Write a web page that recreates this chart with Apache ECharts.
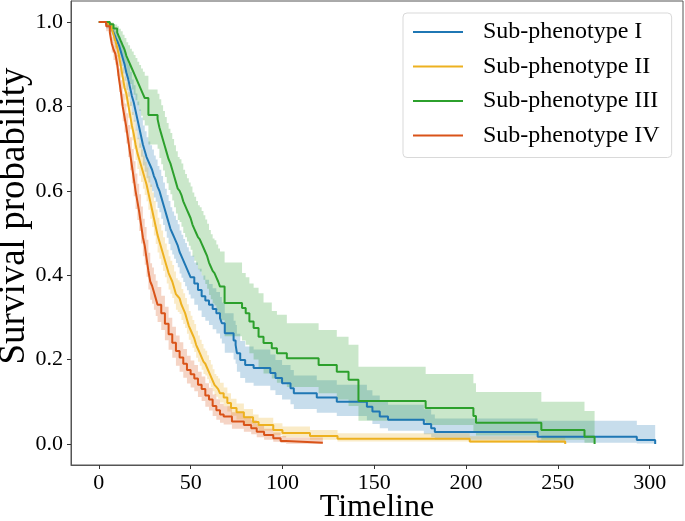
<!DOCTYPE html>
<html>
<head>
<meta charset="utf-8">
<script src="https://cdn.jsdelivr.net/npm/echarts@6/dist/echarts.min.js"></script>
<style>
html,body{margin:0;padding:0;background:#fff;}
#c{width:685px;height:521px;}
</style>
</head>
<body>
<div id="c"></div>
<script>
// ---------- data ----------
const seriesNames = ['Sub-phenotype I', 'Sub-phenotype II', 'Sub-phenotype III', 'Sub-phenotype IV'];
const xTicks = [0, 50, 100, 150, 200, 250, 300];
const yTicks = [0, 0.2, 0.4, 0.6, 0.8, 1.0];

// Sub-phenotype I
const tI = [0,4,6,7,8,9,10,11,12,13,14,15,16,17,18,19,20,21,22,23,24,25,26,27,28,29,30,31,32,33,34,35,36,37,38,39,40,41,42,43,44,45,46,47,48,49,50,52,54,56,58,60,62,64,66,67,68.6,73.4,74.5,75.2,77,79.7,84.3,93.4,96.2,99.8,104.4,106.2,118.7,129.6,146,149,153,157.5,177,181,183,239,293,303,303];
const sI = [1,.995,.99,.985,.975,.965,.955,.945,.93,.915,.9,.88,.865,.845,.825,.81,.79,.77,.75,.73,.71,.695,.68,.67,.66,.65,.635,.625,.61,.6,.585,.57,.555,.54,.525,.51,.5,.49,.48,.47,.455,.445,.435,.425,.415,.405,.395,.38,.365,.35,.34,.33,.32,.31,.298,.286,.2625,.245,.235,.215,.199,.187,.18,.168,.156,.144,.132,.12,.11,.1,.088,.077,.065,.057,.047,.037,.028,.017,.0095,.0095,0];
const loI = [1,.985,.976,.968,.954,.94,.927,.914,.896,.878,.861,.839,.823,.801,.78,.764,.743,.722,.702,.681,.66,.645,.63,.62,.609,.599,.584,.574,.559,.549,.534,.519,.504,.489,.474,.459,.449,.439,.429,.419,.404,.394,.384,.374,.364,.354,.345,.33,.316,.301,.292,.282,.272,.262,.25,.238,.216,.2,.19,.171,.156,.145,.138,.127,.116,.105,.094,.083,.074,.066,.056,.047,.037,.031,.023,.016,.01,.003,.001,.001,.001];
const hiI = [1,.999,.996,.993,.987,.98,.973,.966,.954,.942,.93,.913,.9,.882,.864,.85,.831,.812,.793,.774,.755,.741,.727,.717,.708,.698,.684,.674,.659,.65,.635,.62,.605,.59,.576,.561,.551,.541,.531,.521,.506,.496,.486,.476,.466,.456,.446,.43,.415,.399,.389,.379,.369,.36,.348,.335,.31,.292,.282,.261,.244,.231,.224,.212,.199,.187,.175,.162,.151,.14,.127,.115,.102,.093,.082,.07,.06,.055,.045,.045,.045];

// Sub-phenotype II
const tII = [0,5,7,8,9,10,11,12,13,14,15,16,17,18,19,20,21,22,23,24,25,26,27,28,29,30,31,32,33,34,35,36,37,38,39,40,41,42,43,44,45,46,47,48,49,50,51,52,53,54,55,56,57,58,59,60,61,62,63,64,65,66,68,70,72,75,79,84,87,95,100,115,130,202,254,254];
const sII = [1,.995,.985,.97,.955,.94,.92,.895,.87,.845,.83,.805,.78,.755,.735,.71,.69,.675,.66,.645,.63,.615,.595,.575,.555,.535,.515,.495,.48,.465,.45,.435,.42,.405,.395,.385,.37,.355,.35,.345,.33,.32,.31,.295,.28,.27,.26,.25,.235,.225,.215,.205,.195,.19,.18,.17,.16,.15,.14,.135,.13,.12,.11,.097,.085,.075,.063,.052,.045,.033,.026,.019,.012,.0055,.0055,0];
const loII = [1,.988,.973,.955,.936,.918,.896,.869,.842,.816,.8,.773,.746,.72,.699,.673,.652,.636,.621,.605,.59,.575,.555,.534,.514,.494,.474,.454,.439,.424,.41,.395,.38,.366,.356,.346,.332,.318,.313,.308,.294,.284,.275,.261,.247,.237,.228,.218,.204,.195,.185,.176,.166,.162,.153,.144,.135,.125,.116,.112,.107,.098,.089,.077,.067,.058,.047,.037,.031,.021,.016,.01,.006,.002,.002,.002];
const hiII = [1,.998,.992,.98,.968,.956,.939,.916,.893,.871,.857,.834,.811,.787,.768,.745,.726,.712,.698,.684,.669,.655,.635,.615,.596,.576,.556,.536,.521,.506,.49,.475,.46,.445,.434,.424,.409,.393,.388,.383,.367,.357,.346,.331,.315,.304,.294,.284,.268,.257,.247,.237,.226,.221,.21,.199,.188,.177,.166,.161,.155,.145,.134,.12,.107,.096,.083,.07,.062,.049,.041,.033,.025,.018,.018,.018];

// Sub-phenotype III
const tIII = [0,6,8,10,11,12,13,14,15,16,17,18,19,20,21,22,23,24,25,27,32,33,34,35,36,37,38,39,40,41,42,43,44,45,46,47,48,49,50,51,52,53,54,55,56,57,58,59,60,61,62,63,64,65,66,68.5,78,80,82,84.3,87,89.7,94.2,97,102.4,119.7,129.6,136,141.4,178,204,205.4,241,264.5,270,270];
const sIII = [1,.995,.985,.975,.965,.955,.945,.935,.92,.91,.9,.89,.88,.87,.86,.85,.84,.83,.82,.78,.77,.75,.735,.72,.705,.69,.675,.665,.65,.635,.62,.605,.6,.59,.575,.565,.555,.545,.535,.52,.51,.5,.49,.485,.475,.465,.455,.445,.43,.42,.41,.405,.395,.385,.373,.334,.322,.31,.29,.275,.254,.239,.227,.215,.203,.187,.171,.152,.102,.085,.066,.05,.033,.017,.017,0];
const loIII = [1,.985,.965,.95,.936,.922,.908,.895,.876,.865,.853,.84,.828,.815,.803,.79,.778,.767,.755,.71,.7,.678,.663,.648,.633,.618,.602,.592,.577,.561,.546,.531,.526,.515,.5,.49,.48,.47,.46,.444,.434,.424,.414,.409,.399,.389,.379,.368,.353,.343,.333,.328,.318,.308,.293,.255,.245,.235,.215,.2,.18,.167,.155,.145,.135,.12,.105,.09,.055,.045,.03,.02,.01,.003,.003,.003];
const hiIII = [1,.999,.994,.99,.984,.978,.97,.962,.952,.945,.937,.93,.922,.915,.906,.898,.89,.882,.873,.84,.83,.817,.803,.789,.775,.761,.747,.737,.723,.708,.694,.68,.675,.665,.65,.64,.63,.62,.61,.596,.586,.576,.566,.561,.552,.542,.532,.522,.507,.497,.487,.483,.473,.463,.456,.43,.405,.395,.38,.37,.357,.335,.315,.306,.286,.27,.254,.235,.183,.166,.144,.123,.1,.078,.078,.078];

// Sub-phenotype IV
const tIV = [0,4,6,7,8,9,10,11,12,13,14,15,16,17,18,19,20,21,22,23,24,25,26,27,28,29,30,31,32,34,36,38,40,42,44,46,48,50,52,54,56,58,60,62,64,66,68,72.5,79,83,86,90,95,99,102,122];
const sIV = [1,.99,.975,.95,.935,.925,.9,.865,.835,.8,.775,.75,.72,.69,.66,.63,.6,.575,.55,.52,.49,.47,.44,.41,.385,.375,.36,.345,.33,.31,.285,.26,.24,.22,.205,.19,.175,.165,.155,.14,.13,.115,.105,.09,.08,.07,.065,.053,.045,.037,.029,.021,.0135,.007,.003,.003];
const loIV = [1,.978,.958,.928,.91,.899,.872,.834,.802,.765,.738,.712,.68,.649,.618,.587,.557,.531,.505,.475,.445,.425,.396,.366,.342,.332,.318,.303,.289,.27,.246,.223,.204,.185,.171,.157,.143,.134,.125,.111,.102,.088,.079,.066,.057,.05,.046,.036,.029,.023,.016,.01,.005,.002,.0005,.0005];
const hiIV = [1,.996,.986,.966,.953,.944,.922,.89,.862,.83,.807,.784,.756,.727,.699,.67,.641,.617,.592,.563,.534,.514,.484,.453,.428,.418,.402,.387,.372,.351,.325,.299,.278,.257,.241,.225,.209,.198,.187,.171,.16,.144,.133,.117,.106,.095,.089,.075,.065,.056,.046,.036,.027,.019,.015,.015];

const colors = ['#1f77b4', '#edb120', '#2ca02c', '#d95319'];
const groups = [
  [tI, sI, loI, hiI],
  [tII, sII, loII, hiII],
  [tIII, sIII, loIII, hiIII],
  [tIV, sIV, loIV, hiIV]
];

const FONT = "'Liberation Serif', 'Times New Roman', 'DejaVu Serif', serif";
const series = [];

// confidence bands: one step polygon per group, placed through the axes with api.coord
groups.forEach((g, k) => {
  const [t, s, lo, hi] = g;
  const n = Math.min(t.length, lo.length, hi.length);
  const rows = [];
  for (let i = 0; i < n; i++) rows.push([t[i], lo[i], hi[i]]);
  series.push({
    name: 'band' + k,
    type: 'custom',
    silent: true,
    clip: true,
    z: 1,
    data: rows,
    encode: { x: 0, y: [1, 2] },
    renderItem: function (params, api) {
      if (params.dataIndex !== 0) return null;
      const up = [], dn = [];
      for (let i = 0; i < rows.length; i++) {
        const x0 = rows[i][0];
        const x1 = i + 1 < rows.length ? rows[i + 1][0] : rows[i][0];
        up.push(api.coord([x0, rows[i][2]]));
        up.push(api.coord([x1, rows[i][2]]));
        dn.push(api.coord([x0, rows[i][1]]));
        dn.push(api.coord([x1, rows[i][1]]));
      }
      const pts = up.concat(dn.reverse());
      return {
        type: 'polygon',
        shape: { points: pts },
        style: { fill: colors[k], opacity: 0.25, stroke: 'none' }
      };
    }
  });
});

// survival step lines
groups.forEach((g, k) => {
  const [t, s] = g;
  const data = [];
  for (let i = 0; i < Math.min(t.length, s.length); i++) data.push([t[i], s[i]]);
  series.push({
    name: seriesNames[k], type: 'line', step: 'end', data: data, symbol: 'none',
    color: colors[k], lineStyle: { color: colors[k], width: 2 }, z: 3
  });
});

const chart = echarts.init(document.getElementById('c'), null, { renderer: 'canvas' });
chart.setOption({
  animation: false,
  backgroundColor: '#ffffff',
  grid: { left: 71, right: 2, top: 1, bottom: 56, containLabel: false, outerBoundsMode: 'none',
    show: true, borderColor: '#555', borderWidth: 1, backgroundColor: 'transparent' },
  legend: {
    data: seriesNames,
    left: 403, top: 13,
    orient: 'vertical',
    icon: 'rect',
    itemWidth: 50, itemHeight: 2,
    itemGap: 8.5,
    padding: [6, 12, 9, 10],
    backgroundColor: '#ffffff',
    borderColor: '#d9d9d9', borderWidth: 1, borderRadius: 4,
    textStyle: { fontFamily: FONT, fontSize: 24, color: '#000', lineHeight: 26, padding: [0, 0, 0, 15] }
  },
  xAxis: {
    type: 'value', min: -15.15, max: 318.15,
    name: 'Timeline', nameLocation: 'middle', nameGap: 27, nameMoveOverlap: false,
    nameTextStyle: { fontFamily: FONT, fontSize: 32, color: '#000' },
    axisLine: { show: true, onZero: false, lineStyle: { color: '#555', width: 1 } },
    axisTick: { show: true, length: 4, lineStyle: { color: '#333' }, customValues: xTicks },
    axisLabel: { fontFamily: FONT, fontSize: 22, color: '#000', margin: 7, customValues: xTicks },
    splitLine: { show: false }
  },
  yAxis: {
    type: 'value', min: -0.05, max: 1.05,
    name: 'Survival probability', nameLocation: 'middle', nameGap: 38, nameMoveOverlap: false,
    nameTextStyle: { fontFamily: FONT, fontSize: 37, color: '#000', padding: [0, 0, 0, 34] },
    axisLine: { show: true, onZero: false, lineStyle: { color: '#555', width: 1 } },
    axisTick: { show: true, length: 4, lineStyle: { color: '#333' }, customValues: yTicks },
    axisLabel: { fontFamily: FONT, fontSize: 22, color: '#000', margin: 8, customValues: yTicks,
      formatter: v => v.toFixed(1) },
    splitLine: { show: false }
  },
  series: series
});
</script>
</body>
</html>
